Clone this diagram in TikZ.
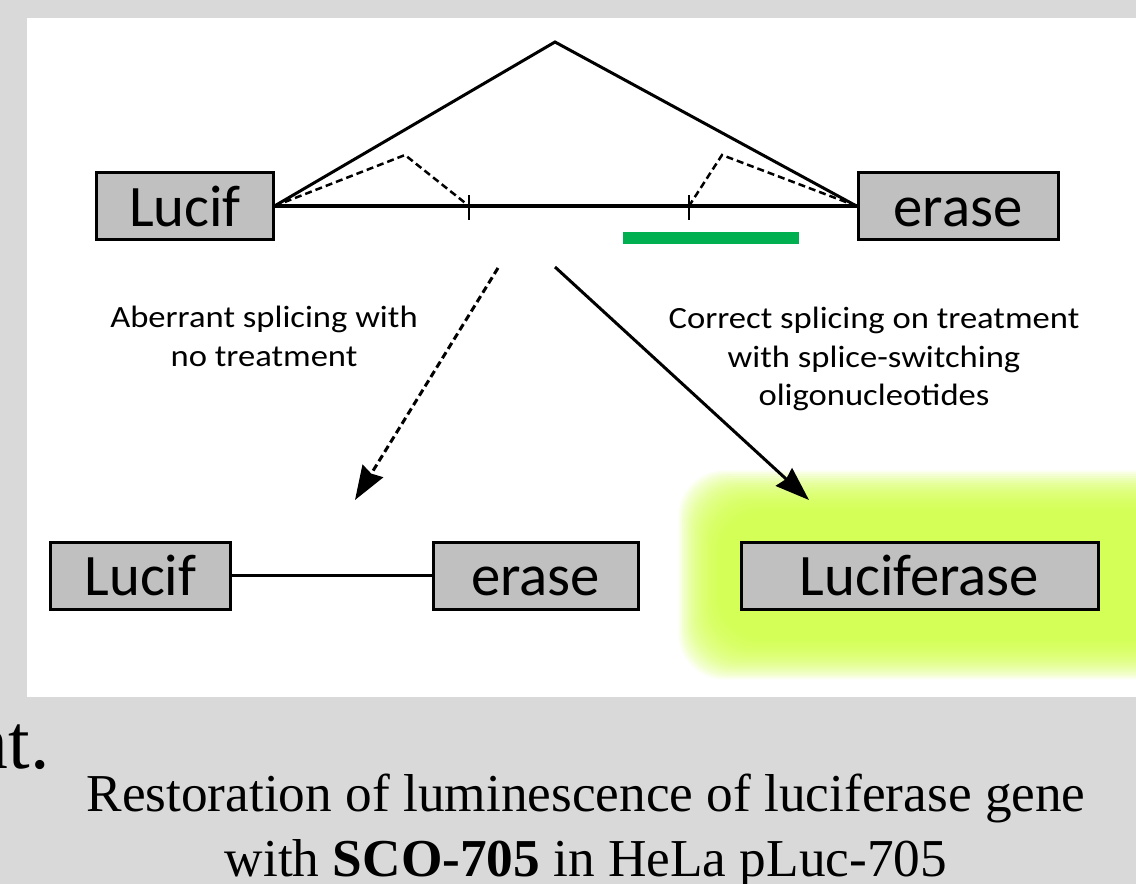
\documentclass[tikz,border=0pt]{standalone}
\usepackage{fontspec}
\setmainfont{Liberation Serif}
\newfontfamily\carlito{Carlito}
\newfontfamily\carlitowide[FakeStretch=1.12]{Carlito}
\usetikzlibrary{arrows.meta}
\usetikzlibrary{calc}
\definecolor{panelgray}{RGB}{217,217,217}
\definecolor{boxgray}{RGB}{192,192,192}
\definecolor{ssogreen}{RGB}{0,176,80}
\definecolor{glowyellow}{RGB}{212,255,70}

\begin{document}
\begin{tikzpicture}[x=1bp,y=-1bp]
    \useasboundingbox (0,0) rectangle (1136,884);
    \fill[panelgray] (0,0) rectangle (1136,884);
    \fill[white] (27,18) rectangle (1136,697);

    % glow round the spliced gene
    \begin{scope}
        \clip (27,18) rectangle (1136,697);
        \foreach \i in {0,1,...,23}{
            \fill[glowyellow, opacity=0.085, rounded corners=46bp]
                (720-1.8*\i,512-1.8*\i) rectangle (1170+1.8*\i,638+1.8*\i);
        }
    \end{scope}

    \begin{scope} [every node/.style={draw,line width=3bp,fill=boxgray,inner sep=0pt,
            minimum height=67bp,text height=40bp,text depth=0bp,
            font=\carlito\fontsize{59}{60}\selectfont}]
        \node[minimum width=176bp] (lucifTop) at (185,206) {Lucif};
        \node[minimum width=200bp] (eraseTop) at (958,206) {erase};
        \node[minimum width=179bp] (lucifBot) at (140.5,575.5) {Lucif};
        \node[minimum width=205bp] (eraseBot) at (535.5,575.5) {erase};
        \node[minimum width=357bp] (lucBot) at (919.5,575.5) {Luciferase};
    \end{scope}

    \coordinate (apex) at (555,42);
    \coordinate (dashL) at (405,155);
    \coordinate (dashR) at (722,155);
    \coordinate (tickL) at (469,206);
    \coordinate (tickR) at (689,206);

    \draw[line width=4.5bp] (lucifTop.east) -- (eraseTop.west);
    \draw[line width=3bp] (lucifTop.east) -- (apex) -- (eraseTop.west);
    \draw[line width=2.5bp,dash pattern=on 7bp off 4bp] (lucifTop.east) -- (dashL) -- (tickL);
    \draw[line width=2.5bp,dash pattern=on 7bp off 4bp] (eraseTop.west) -- (dashR) -- (tickR);
    \foreach \t in {tickL,tickR}{
        \draw[line width=2.5bp] ($(\t)+(0,-11)$) -- ($(\t)+(0,14)$);
    }
    \draw[ssogreen,line width=12bp] (623,238) -- (799,238);

    \draw[line width=3bp] (lucifBot) -- (eraseBot);

    \coordinate (abStart) at (498,268);
    \coordinate (abEnd) at (355,500);
    \coordinate (coStart) at (555,267);
    \coordinate (coEnd) at (809,500);
    \begin{scope}[>={Stealth[length=34bp,width=24bp,inset=3bp]}, line width=3bp]
        \draw[->,dash pattern=on 7bp off 4bp] (abStart) -- (abEnd);
        \draw[->] (coStart) -- (coEnd);
    \end{scope}

    \begin{scope}[every node/.style={align=center,font=\carlitowide\fontsize{31}{39}\selectfont}]
        \node (abLabel) at (264,336) {Aberrant splicing with\\no treatment};
        \node (coLabel) at (874,359) {Correct splicing on treatment\\with splice-switching\\oligonucleotides};
    \end{scope}

    \node[anchor=base east,inner sep=0pt,font=\fontsize{78}{80}\selectfont] (ntFrag) at (50,768) {nt.};
    \node[align=center,inner sep=0pt,font=\fontsize{53.5}{65}\selectfont] (caption) at (586,831)
        {Restoration of luminescence of luciferase gene\\with \textbf{SCO-705} in HeLa pLuc-705};
\end{tikzpicture}
\end{document}
